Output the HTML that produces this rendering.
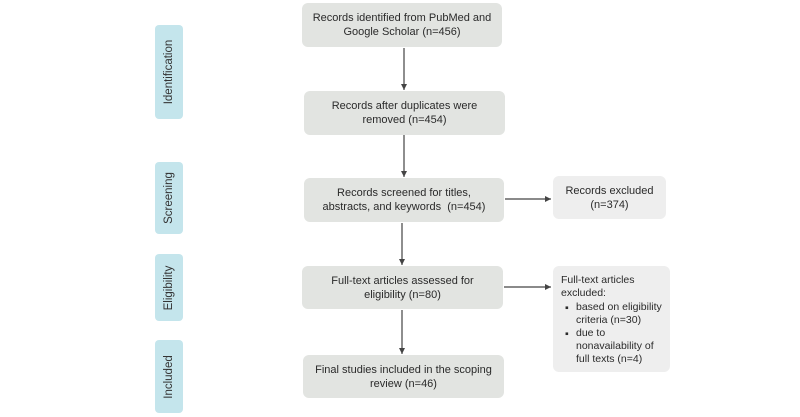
<!DOCTYPE html>
<html><head><meta charset="utf-8"><style>
body{margin:0;width:800px;height:417px;background:#fff;position:relative;overflow:hidden;font-family:"Liberation Sans",sans-serif;color:#2a2a2a}
.b{position:absolute;background:#e2e4e1;border-radius:6px;display:flex;align-items:center;justify-content:center;text-align:center;font-size:11px;line-height:14px}
.s{position:absolute;background:#c4e5ec;border-radius:4px;left:155px;width:28px}
.s span{position:absolute;left:50%;top:50%;transform:translate(-50%,-50%) rotate(-90deg);font-size:11.5px;white-space:nowrap;color:#333}
.r{position:absolute;background:#eeeeee;border-radius:6px;font-size:10.5px;line-height:13px}
</style></head><body>
<div class="s" style="top:25px;height:94px"><span>Identification</span></div>
<div class="s" style="top:162px;height:72px"><span>Screening</span></div>
<div class="s" style="top:254px;height:67px"><span>Eligibility</span></div>
<div class="s" style="top:340px;height:73px"><span>Included</span></div>

<div class="b" style="left:302px;top:3px;width:200px;height:44px">Records identified from PubMed and<br>Google Scholar (n=456)</div>
<div class="b" style="left:304px;top:91px;width:201px;height:44px">Records after duplicates were<br>removed (n=454)</div>
<div class="b" style="left:304px;top:178px;width:200px;height:44px">Records screened for titles,<br>abstracts, and keywords&nbsp; (n=454)</div>
<div class="b" style="left:302px;top:266px;width:201px;height:43px">Full-text articles assessed for<br>eligibility (n=80)</div>
<div class="b" style="left:303px;top:355px;width:201px;height:43px">Final studies included in the scoping<br>review (n=46)</div>

<div class="r" style="left:553px;top:176px;width:113px;height:43px;display:flex;align-items:center;justify-content:center;text-align:center;font-size:11px;line-height:14px">Records excluded<br>(n=374)</div>
<div class="r" style="left:553px;top:266px;width:117px;height:106px;padding:0;">
<div style="position:absolute;left:8px;top:8px;width:110px">Full-text articles<br>excluded:</div>
<div style="position:absolute;left:12px;top:36px">▪</div>
<div style="position:absolute;left:23px;top:35px;width:95px">based on eligibility<br>criteria (n=30)</div>
<div style="position:absolute;left:12px;top:62px">▪</div>
<div style="position:absolute;left:23px;top:61px;width:95px">due to<br>nonavailability of<br>full texts (n=4)</div>
</div>

<svg width="800" height="417" style="position:absolute;left:0;top:0">
<defs><marker id="a" markerWidth="6" markerHeight="6" refX="5" refY="3" orient="auto"><path d="M0,0.5 L5,3 L0,5.5z" fill="#444"/></marker></defs>
<g stroke="#444" stroke-width="1.2" fill="none" marker-end="url(#a)">
<line x1="404" y1="48" x2="404" y2="90"/>
<line x1="404" y1="135" x2="404" y2="177"/>
<line x1="402" y1="223" x2="402" y2="265"/>
<line x1="402" y1="310" x2="402" y2="354"/>
<line x1="505" y1="199" x2="551" y2="199"/>
<line x1="504" y1="287" x2="551" y2="287"/>
</g></svg>
</body></html>
